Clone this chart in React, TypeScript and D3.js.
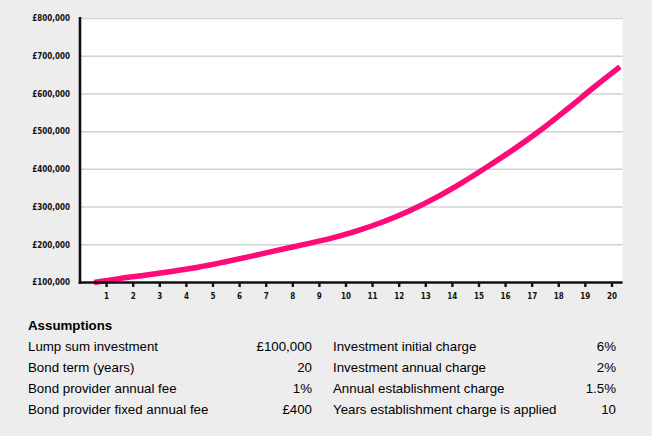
import React from "react";
import * as d3 from "d3";

const years: number[] = [0, 1, 2, 3, 4, 5, 6, 7, 8, 9, 10, 11, 12, 13, 14, 15, 16, 17, 18, 19, 20];
const values: number[] = [100000, 111000, 120000, 130000, 141000, 155000, 170000, 186000, 201000, 217000, 237000, 261000, 290000, 325000, 365000, 409000, 455000, 505000, 560000, 617000, 672000];
const xTicks: number[] = [1, 2, 3, 4, 5, 6, 7, 8, 9, 10, 11, 12, 13, 14, 15, 16, 17, 18, 19, 20];
const yTicks: number[] = [100000, 200000, 300000, 400000, 500000, 600000, 700000, 800000];

const assumptionsLeft: [string, string][] = [
  ["Lump sum investment", "£100,000"],
  ["Bond term (years)", "20"],
  ["Bond provider annual fee", "1%"],
  ["Bond provider fixed annual fee", "£400"],
];
const assumptionsRight: [string, string][] = [
  ["Investment initial charge", "6%"],
  ["Investment annual charge", "2%"],
  ["Annual establishment charge", "1.5%"],
  ["Years establishment charge is applied", "10"],
];

export default function App() {
  const W = 652, H = 436;
  const left = 80, right = 622.6, top = 18.5, bottom = 282.5;
  const x = d3.scaleLinear().domain([0, 20.4]).range([left, right]);
  const xLine = d3.scaleLinear().domain([0, 20]).range([x(0.53), x(20.3)]);
  const y = d3.scaleLinear().domain([100000, 800000]).range([bottom, top]);
  const line = d3.line<number>().x((_, i) => xLine(years[i])).y((d) => y(d)).curve(d3.curveMonotoneX);
  const fmt = (v: number) => "£" + d3.format(",")(v);
  const tickFont = "'DejaVu Sans Condensed', 'DejaVu Sans', sans-serif";
  const tableFont = "'Liberation Sans', Arial, sans-serif";
  const rowY = [351, 372, 393, 414];

  return (
    <svg width={W} height={H} style={{ position: "absolute", left: 0, top: 0 }}>
      <rect x={0} y={0} width={W} height={H} fill="#ededed" />
      <rect x={left} y={top - 1} width={right - left} height={bottom - top + 1} fill="#ffffff" />
      {yTicks.map((t) => (
        <g key={t}>
          {t > 100000 && (
            <line x1={left} x2={right} y1={y(t)} y2={y(t)} stroke="#d2d2d2" strokeWidth={1.5} />
          )}
          <text x={70} y={y(t)} dy="0.35em" textAnchor="end" fontFamily={tickFont} fontWeight="bold" fontSize={8} fill="#111">
            {fmt(t)}
          </text>
        </g>
      ))}
      <path d={line(values) || ""} fill="none" stroke="#ff0a78" strokeWidth={5.5} strokeLinecap="butt" />
      <line x1={left} x2={left} y1={top - 1.5} y2={bottom + 1.5} stroke="#111" strokeWidth={2.6} />
      <line x1={left - 1.3} x2={right} y1={bottom} y2={bottom} stroke="#111" strokeWidth={2.4} />
      {xTicks.map((t) => (
        <g key={t}>
          <line x1={x(t)} x2={x(t)} y1={bottom} y2={bottom + 4.5} stroke="#111" strokeWidth={2.4} />
          <text x={x(t)} y={299} textAnchor="middle" fontFamily={tickFont} fontWeight="bold" fontSize={8} fill="#111">
            {t}
          </text>
        </g>
      ))}
      <text x={28} y={330} fontFamily={tableFont} fontWeight="bold" fontSize={13.3} fill="#000">Assumptions</text>
      {assumptionsLeft.map(([k, v], i) => (
        <g key={k}>
          <text x={28} y={rowY[i]} fontFamily={tableFont} fontSize={13.3} fill="#000">{k}</text>
          <text x={312} y={rowY[i]} textAnchor="end" fontFamily={tableFont} fontSize={13.3} fill="#000">{v}</text>
        </g>
      ))}
      {assumptionsRight.map(([k, v], i) => (
        <g key={k}>
          <text x={333} y={rowY[i]} fontFamily={tableFont} fontSize={13.3} fill="#000">{k}</text>
          <text x={616} y={rowY[i]} textAnchor="end" fontFamily={tableFont} fontSize={13.3} fill="#000">{v}</text>
        </g>
      ))}
    </svg>
  );
}
